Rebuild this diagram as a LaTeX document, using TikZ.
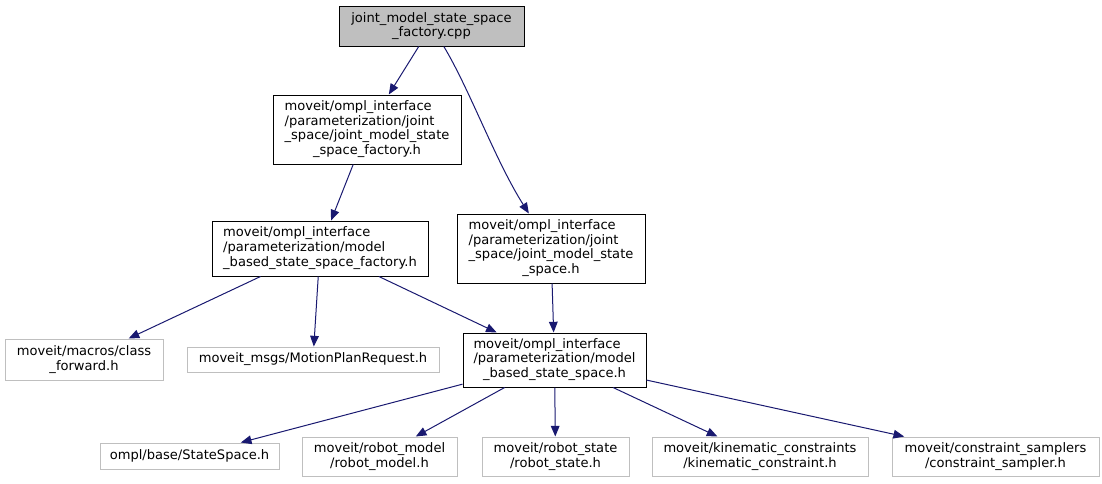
\documentclass[tikz,border=0pt]{standalone}
\usepackage{fontspec}
\setmainfont{DejaVu Sans}
\usetikzlibrary{arrows.meta}
\definecolor{edgeblue}{HTML}{191970}
\definecolor{extgray}{HTML}{BFBFBF}
% left-aligned lines, last line centred (as graphviz does)
\newcommand{\inclines}[2]{\begin{tabular}{@{}l@{}}#1\\\multicolumn{1}{@{}c@{}}{#2}\end{tabular}}
\tikzset{
    % Files of the project - black frame
    file node/.style={rectangle, draw=black, line width=0.75pt, inner sep=0pt,
        font=\fontsize{9.8}{11}\selectfont, align=center},
    % The file this graph is for - grey fill
    root node/.style={file node, fill=extgray},
    % Files from outside - grey frame
    ext node/.style={file node, draw=extgray},
    % Include edges
    inc/.style={edgeblue, line width=0.75pt, -{Triangle[length=8pt, width=6.5pt]}}
}
\begin{document}
\begin{tikzpicture}[x=0.75pt, y=-0.75pt]
    \useasboundingbox (0,0) rectangle (1102,483);

    % --- Nodes (pixel centres of the reference) ---
    \node[root node, minimum width=138.75pt, minimum height=30pt] (cpp) at (431.5,26)
        {joint\_model\_state\_space\\\_factory.cpp};
    \node[file node, minimum width=141pt, minimum height=51.75pt] (jmssf) at (367,129.5)
        {\inclines{moveit/ompl\_interface\\/parameterization/joint\\\_space/joint\_model\_state}{\_space\_factory.h}};
    \node[file node, minimum width=162pt, minimum height=41.25pt] (mbssf) at (320,248.5)
        {\inclines{moveit/ompl\_interface\\/parameterization/model}{\_based\_state\_space\_factory.h}};
    \node[file node, minimum width=141pt, minimum height=51.75pt] (jmss) at (551,248.5)
        {\inclines{moveit/ompl\_interface\\/parameterization/joint\\\_space/joint\_model\_state}{\_space.h}};
    \node[ext node, minimum width=118.5pt, minimum height=30.75pt] (classfwd) at (84,359.5)
        {moveit/macros/class\\\_forward.h};
    \node[ext node, minimum width=189pt, minimum height=18.75pt] (mpr) at (313,359.5)
        {moveit\_msgs/MotionPlanRequest.h};
    \node[file node, minimum width=137.25pt, minimum height=40.5pt] (mbss) at (554.5,360)
        {\inclines{moveit/ompl\_interface\\/parameterization/model}{\_based\_state\_space.h}};

    % bottom row
    \node[ext node, minimum width=134.25pt, minimum height=19.5pt] (statesp) at (189.5,456)
        {ompl/base/StateSpace.h};
    \node[ext node, minimum width=116.25pt, minimum height=29.25pt] (rmodel) at (379.5,456.5)
        {moveit/robot\_model\\/robot\_model.h};
    \node[ext node, minimum width=110.25pt, minimum height=29.25pt] (rstate) at (555.5,456.5)
        {moveit/robot\_state\\/robot\_state.h};
    \node[ext node, minimum width=162pt, minimum height=29.25pt] (kincon) at (760,456.5)
        {moveit/kinematic\_constraints\\/kinematic\_constraint.h};
    \node[ext node, minimum width=155.25pt, minimum height=29.25pt] (consamp) at (995.5,456.5)
        {moveit/constraint\_samplers\\/constraint\_sampler.h};

    % --- Include edges ---
    \draw[inc] (cpp) -- (jmssf);
    \draw[inc] (cpp) .. controls (470,90) and (495,160) .. (jmss);
    \draw[inc] (jmssf) -- (mbssf);
    \draw[inc] (mbssf) -- (classfwd);
    \draw[inc] (mbssf) -- (mpr);
    \draw[inc] (mbssf) -- (mbss);
    \draw[inc] (jmss) -- (mbss);
    \draw[inc] (mbss) -- (statesp);
    \draw[inc] (mbss) -- (rmodel);
    \draw[inc] (mbss) -- (rstate);
    \draw[inc] (mbss) -- (kincon);
    \draw[inc] (mbss) -- (consamp);
\end{tikzpicture}
\end{document}
